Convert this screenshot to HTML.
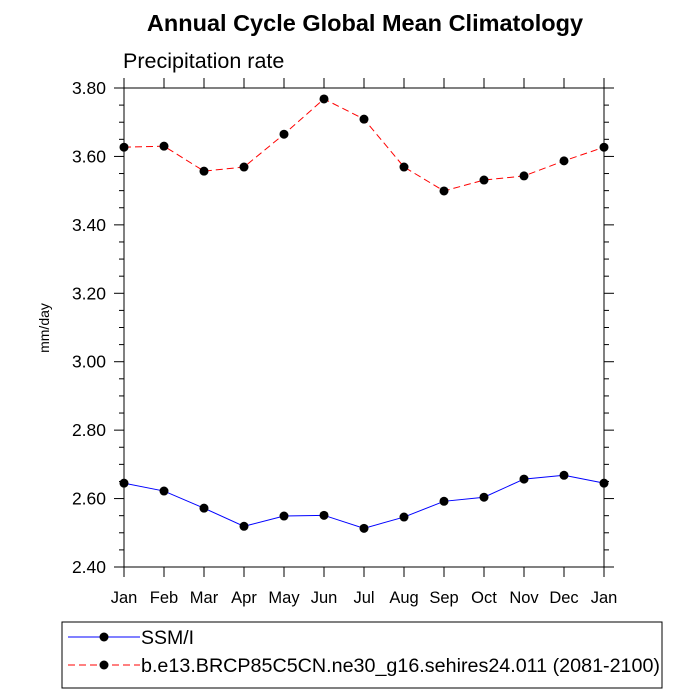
<!DOCTYPE html>
<html><head><meta charset="utf-8"><style>
body{margin:0;background:#fff;font-family:"Liberation Sans",sans-serif}
svg{display:block}
</style></head><body>
<svg width="700" height="700" viewBox="0 0 700 700">
<text x="365" y="31" text-anchor="middle" font-size="23.5" font-weight="bold">Annual Cycle Global Mean Climatology</text>
<text x="123" y="68" font-size="21.5">Precipitation rate</text>
<text transform="translate(49,328) rotate(-90)" text-anchor="middle" font-size="14">mm/day</text>
<g id="axes"></g>
<g id="series"></g>
<rect x="62" y="622" width="600" height="66" fill="none" stroke="#000" stroke-width="1"/>
<g>
<line x1="68" y1="637" x2="140" y2="637" stroke="#00f"/><circle cx="104" cy="637" r="4.5"/>
<text x="141" y="644" font-size="19.5">SSM/I</text></g>
<g>
<line x1="68" y1="665" x2="140" y2="665" stroke="#f00" stroke-dasharray="7,4"/><circle cx="104" cy="665" r="4.5"/>
<text x="141" y="672" font-size="19.5" textLength="519" lengthAdjust="spacingAndGlyphs">b.e13.BRCP85C5CN.ne30_g16.sehires24.011 (2081-2100)</text></g>
</svg>
<script>
const months=["Jan","Feb","Mar","Apr","May","Jun","Jul","Aug","Sep","Oct","Nov","Dec","Jan"];
const obsValues=[2.645,2.622,2.572,2.519,2.549,2.551,2.513,2.546,2.592,2.604,2.657,2.668,2.645];
const modelValues=[3.627,3.630,3.557,3.569,3.665,3.768,3.709,3.569,3.499,3.531,3.543,3.587,3.627];
const yTicks=[2.4,2.6,2.8,3.0,3.2,3.4,3.6,3.8];
const L=124,R=604,T=88,B=567,ymin=2.4,ymax=3.8;
const x=i=>L+(R-L)*i/(months.length-1);
const y=v=>B-(v-ymin)/(ymax-ymin)*(B-T);
const NS="http://www.w3.org/2000/svg";
function mk(tag,attrs,parent){const e=document.createElementNS(NS,tag);for(const k in attrs)e.setAttribute(k,attrs[k]);parent.appendChild(e);return e;}
const ax=document.getElementById('axes');
const frame=mk('rect',{x:L,y:T,width:R-L,height:B-T,fill:'none',stroke:'#000','stroke-width':1},ax);


yTicks.forEach((v,i)=>{
  const yy=y(v);
  mk('line',{x1:L-10,y1:yy,x2:L,y2:yy,stroke:'#000'},ax);
  mk('line',{x1:R,y1:yy,x2:R+10,y2:yy,stroke:'#000'},ax);
  const t=mk('text',{x:L-18,y:yy+6,'text-anchor':'end','font-size':17.5},ax);
  t.textContent=v.toFixed(2);
  
  
  if(i<yTicks.length-1){for(let m=1;m<4;m++){const ym=y(v+m*0.05);
    mk('line',{x1:L-5,y1:ym,x2:L,y2:ym,stroke:'#000'},ax);
    mk('line',{x1:R,y1:ym,x2:R+5,y2:ym,stroke:'#000'},ax);}}
});
months.forEach((m,i)=>{
  const xx=x(i);
  mk('line',{x1:xx,y1:B,x2:xx,y2:B+10,stroke:'#000'},ax);
  mk('line',{x1:xx,y1:T-10,x2:xx,y2:T,stroke:'#000'},ax);
  const t=mk('text',{x:xx,y:B+36,'text-anchor':'middle','font-size':16.5},ax);
  t.textContent=m;
  
  
});
const sg=document.getElementById('series');
function series(vals,color,dash,name){
  const g=mk('g',{},sg);
  
  
  const p=mk('polyline',{points:vals.map((v,i)=>x(i)+','+y(v)).join(' '),fill:'none',stroke:color,'stroke-width':1},g);
  if(dash)p.setAttribute('stroke-dasharray',dash);
  vals.forEach((v,i)=>{const c=mk('circle',{cx:x(i),cy:y(v),r:4.5,fill:'#000'},g);
    
    });
}
series(obsValues,'#00f',null,'series-ssmi');
series(modelValues,'#f00','7,4','series-model');
</script>
</body></html>
